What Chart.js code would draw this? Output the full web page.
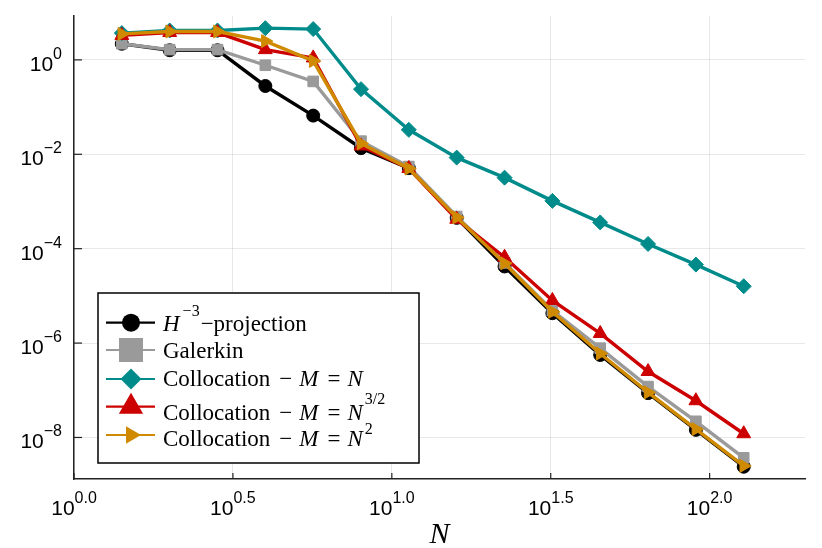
<!DOCTYPE html>
<html>
<head>
<meta charset="utf-8">
<script src="https://cdn.jsdelivr.net/npm/chart.js@4.4.1/dist/chart.umd.min.js"></script>
<style>
  html, body { margin: 0; padding: 0; background: #fff; }
  #wrap { width: 822px; height: 548px; }
</style>
</head>
<body>
<div id="wrap"><canvas id="errChart"></canvas></div>
<script>
// N values (sqrt(2)^k)
const N = [1.414, 2, 2.828, 4, 5.657, 8, 11.31, 16, 22.63, 32, 45.25, 64, 90.51, 128];

// errors
const projection = [2.2, 1.6, 1.6, 0.28, 0.066, 0.0135, 0.0051, 4.5e-4, 4.2e-5, 4.3e-6, 5.6e-7, 8.7e-8, 1.45e-8, 2.4e-9];
const galerkin   = [2.2, 1.65, 1.65, 0.77, 0.35, 0.019, 0.0055, 4.8e-4, 5.0e-5, 4.9e-6, 7.8e-7, 1.2e-7, 2.2e-8, 3.7e-9];
const collocN    = [3.7, 4.2, 4.2, 4.7, 4.5, 0.24, 0.033, 0.0085, 0.0032, 1.03e-3, 3.6e-4, 1.26e-4, 4.6e-5, 1.6e-5];
const collocN32  = [3.3, 3.8, 3.8, 1.65, 1.1, 0.015, 0.005, 4.2e-4, 6.6e-5, 8.0e-6, 1.6e-6, 2.5e-7, 6.0e-8, 1.2e-8];
const collocN2   = [3.55, 4.0, 4.0, 2.5, 0.95, 0.017, 0.005, 4.6e-4, 4.9e-5, 4.6e-6, 6.0e-7, 9.0e-8, 1.5e-8, 2.5e-9];

// tick exponents
const xTickExps = [0.0, 0.5, 1.0, 1.5, 2.0];
const yTickExps = [-8, -6, -4, -2, 0];

const colors = {
    black: '#000000',
    gray: '#9a9a9a',
    teal: '#008b8b',
    red: '#cc0000',
    orange: '#d08a00'
};

function toPoints(ys) {
    return ys.map((y, i) => ({ x: N[i], y: y }));
}

function series(label, ys, color, style, rot, radius, order) {
    return {
        label: label,
        data: toPoints(ys),
        borderColor: color,
        backgroundColor: color,
        borderWidth: 3.4,
        pointStyle: style,
        rotation: rot,
        pointRadius: radius,
        pointBorderWidth: 1,
        pointBorderColor: color,
        pointBackgroundColor: color,
        tension: 0,
        order: order
    };
}

const SANS = '"Liberation Sans", Arial, sans-serif';
const SERIF = '"Liberation Serif", "Times New Roman", serif';

function drawPow(ctx, x, y, exp, align) {
    const base = '10';
    ctx.font = '21px ' + SANS;
    const wb = ctx.measureText(base).width;
    ctx.font = '16px ' + SANS;
    const we = ctx.measureText(exp).width;
    let left = align === 'center' ? x - (wb + we) / 2 : x - (wb + we);
    ctx.fillStyle = '#000';
    ctx.textAlign = 'left';
    ctx.textBaseline = 'alphabetic';
    ctx.font = '21px ' + SANS;
    ctx.fillText(base, left, y);
    ctx.font = '16px ' + SANS;
    ctx.fillText(exp, left + wb, y - 12);
}

function drawRich(ctx, x, y, parts) {
    let cx = x;
    ctx.textAlign = 'left';
    ctx.textBaseline = 'alphabetic';
    ctx.fillStyle = '#000';
    parts.forEach(p => {
        cx += p.dx || 0;
        const size = p.sup ? 16 : 23;
        ctx.font = (p.it ? 'italic ' : '') + size + 'px ' + SERIF;
        ctx.fillText(p.t, cx, p.sup ? y - (p.up || 11) : y);
        cx += ctx.measureText(p.t).width;
    });
}

function drawMarker(ctx, style, x, y, r, color) {
    ctx.fillStyle = color;
    ctx.beginPath();
    if (style === 'circle') {
        ctx.arc(x, y, r, 0, Math.PI * 2);
    } else if (style === 'rect') {
        ctx.rect(x - r, y - r, 2 * r, 2 * r);
    } else if (style === 'diamond') {
        ctx.moveTo(x, y - r); ctx.lineTo(x + r, y); ctx.lineTo(x, y + r); ctx.lineTo(x - r, y);
    } else if (style === 'triUp') {
        ctx.moveTo(x, y - r); ctx.lineTo(x + r * 0.866, y + r * 0.5); ctx.lineTo(x - r * 0.866, y + r * 0.5);
    } else if (style === 'triRight') {
        ctx.moveTo(x + r, y); ctx.lineTo(x - r * 0.5, y - r * 0.866); ctx.lineTo(x - r * 0.5, y + r * 0.866);
    }
    ctx.closePath();
    ctx.fill();
}

const colloc = [{ t: 'Collocation' }, { t: '\u2212', dx: 9 }, { t: 'M', it: true, dx: 7 }, { t: '=', dx: 9 }, { t: 'N', it: true, dx: 7 }];

const legendRows = [
    { color: colors.black, style: 'circle', r: 9, parts: [{ t: 'H', it: true }, { t: '\u22123', sup: true, up: 15, dx: 3 }, { t: '\u2212projection', dx: 1 }] },
    { color: colors.gray, style: 'rect', r: 12, parts: [{ t: 'Galerkin' }] },
    { color: colors.teal, style: 'diamond', r: 10.5, parts: colloc },
    { color: colors.red, style: 'triUp', r: 14, parts: colloc.concat([{ t: '3/2', sup: true, up: 16, dx: 2 }]) },
    { color: colors.orange, style: 'triRight', r: 10, parts: colloc.concat([{ t: '2', sup: true, up: 12, dx: 2 }]) }
];
const markerYs = [322.7, 350, 379, 406.7, 435];
const textYs = [331, 358, 386, 420, 446];

const decorPlugin = {
    id: 'decor',
    afterDraw(chart) {
        const ctx = chart.ctx;
        const xs = chart.scales.x, ys = chart.scales.y;
        const area = chart.chartArea;
        ctx.save();
        // inner tick marks
        ctx.strokeStyle = '#222';
        ctx.lineWidth = 1.2;
        xTickExps.forEach(e => {
            const px = xs.getPixelForValue(Math.pow(10, e));
            ctx.beginPath(); ctx.moveTo(px, area.bottom); ctx.lineTo(px, area.bottom - 6); ctx.stroke();
            drawPow(ctx, px, area.bottom + 36, e.toFixed(1), 'center');
        });
        yTickExps.forEach(e => {
            const py = ys.getPixelForValue(Math.pow(10, e));
            ctx.beginPath(); ctx.moveTo(area.left, py); ctx.lineTo(area.left + 8, py); ctx.stroke();
            drawPow(ctx, area.left - 12, py + 11, e === 0 ? '0' : '\u2212' + Math.abs(e), 'right');
        });
        // axis title
        ctx.fillStyle = '#000';
        ctx.font = 'italic 30px ' + SERIF;
        ctx.textAlign = 'center';
        ctx.fillText('N', (area.left + area.right) / 2, 543);

        // legend
        ctx.fillStyle = '#fff';
        ctx.fillRect(98, 293, 321, 170);
        ctx.strokeStyle = '#000';
        ctx.lineWidth = 1.5;
        ctx.strokeRect(98, 293, 321, 170);
        legendRows.forEach((row, i) => {
            const my = markerYs[i];
            ctx.strokeStyle = row.color;
            ctx.lineWidth = 2.2;
            ctx.beginPath(); ctx.moveTo(106, my); ctx.lineTo(155, my); ctx.stroke();
            drawMarker(ctx, row.style, 131, my, row.r, row.color);
            drawRich(ctx, 163, textYs[i], row.parts);
        });
        ctx.restore();
    }
};

new Chart(document.getElementById('errChart'), {
    type: 'line',
    data: {
        datasets: [
            series('H^-3 projection', projection, colors.black, 'circle', 0, 6.5, 5),
            series('Galerkin', galerkin, colors.gray, 'rect', 0, 7.5, 4),
            series('Collocation M = N', collocN, colors.teal, 'rectRot', 0, 7.5, 3),
            series('Collocation M = N^3/2', collocN32, colors.red, 'triangle', 0, 8, 2),
            series('Collocation M = N^2', collocN2, colors.orange, 'triangle', 90, 7.5, 1)
        ]
    },
    options: {
        responsive: true,
        maintainAspectRatio: false,
        animation: false,
        layout: { padding: { top: 16, right: 17, left: 0, bottom: 0 } },
        plugins: { legend: { display: false }, tooltip: { enabled: false } },
        scales: {
            x: {
                type: 'logarithmic',
                min: 1,
                max: Math.pow(10, 2.3),
                afterBuildTicks: s => { s.ticks = xTickExps.map(e => ({ value: Math.pow(10, e) })); },
                afterFit: s => { s.height = 69; },
                ticks: { display: false },
                grid: { color: 'rgba(0,0,0,0.09)', lineWidth: 1, drawTicks: false },
                border: { display: true, color: '#222', width: 1.5 }
            },
            y: {
                type: 'logarithmic',
                min: Math.pow(10, -8.88),
                max: Math.pow(10, 0.93),
                afterBuildTicks: s => { s.ticks = yTickExps.map(e => ({ value: Math.pow(10, e) })); },
                afterFit: s => { s.width = 74; },
                ticks: { display: false },
                grid: { color: 'rgba(0,0,0,0.09)', lineWidth: 1, drawTicks: false },
                border: { display: true, color: '#222', width: 1.5 }
            }
        }
    },
    plugins: [decorPlugin]
});
</script>
</body>
</html>
